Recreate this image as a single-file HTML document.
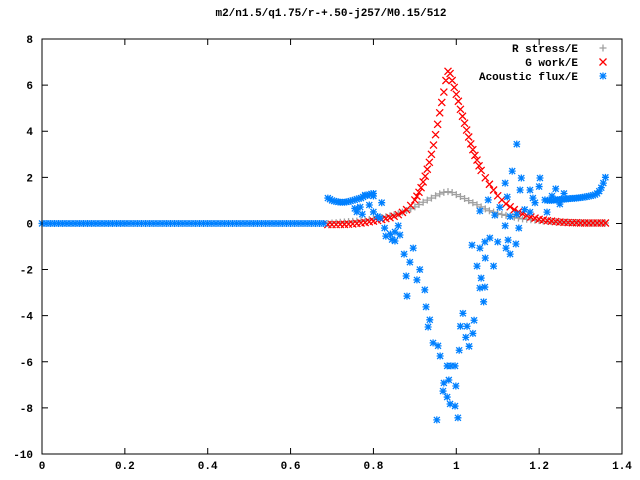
<!DOCTYPE html>
<html><head><meta charset="utf-8"><style>
body{margin:0;background:#fff}
svg{display:block;font-family:"Liberation Mono",monospace;font-size:11px;font-weight:bold}
</style></head><body>
<svg id="chart" width="640" height="480" xmlns="http://www.w3.org/2000/svg">
<rect width="640" height="480" fill="#fff"/>
<text x="331" y="16" text-anchor="middle">m2/n1.5/q1.75/r-+.50-j257/M0.15/512</text>
<g id="axes"></g>
<g id="marks"></g>
<rect x="42" y="39" width="580" height="415" fill="none" stroke="#000" stroke-width="1"/>
<g id="legend"></g>
</svg>
<script>
const xTicks=[0,0.2,0.4,0.6,0.8,1,1.2,1.4];
const xTickLabels=["0","0.2","0.4","0.6","0.8","1","1.2","1.4"];
const yTicks=[-10,-8,-6,-4,-2,0,2,4,6,8];
const yTickLabels=["-10","-8","-6","-4","-2","0","2","4","6","8"];
const seriesNames=["R stress/E","G work/E","Acoustic flux/E"];
const stressX=[0.69,0.70,0.71,0.72,0.73,0.74,0.75,0.76,0.77,0.78,0.79,0.80,0.81,0.82,0.83,0.84,0.85,0.86,0.87,0.88,0.89,0.90,0.91,0.92,0.93,0.94,0.95,0.96,0.97,0.98,0.99,1.00,1.01,1.02,1.03,1.04,1.05,1.06,1.07,1.08,1.09,1.10,1.11,1.12,1.13,1.14,1.15,1.16,1.17,1.18,1.19,1.20,1.21,1.22,1.23,1.24,1.25,1.26,1.27,1.28,1.29,1.30,1.31,1.32,1.33,1.34,1.35,1.36];
const stressY=[0,0.02,0.03,0.05,0.06,0.08,0.09,0.1,0.12,0.14,0.17,0.2,0.23,0.26,0.29,0.33,0.37,0.42,0.49,0.56,0.64,0.72,0.82,0.92,1.01,1.1,1.2,1.28,1.35,1.38,1.34,1.25,1.17,1.08,0.99,0.9,0.81,0.72,0.63,0.55,0.49,0.43,0.39,0.35,0.31,0.27,0.23,0.2,0.18,0.16,0.14,0.12,0.1,0.09,0.08,0.07,0.06,0.05,0.05,0.04,0.04,0.03,0.03,0.02,0.02,0.02,0.02,0.02];
const workX=[0.69,0.70,0.71,0.72,0.73,0.74,0.75,0.76,0.77,0.78,0.79,0.80,0.81,0.82,0.83,0.84,0.85,0.86,0.87,0.88,0.89,0.90,0.91,0.92,0.93,0.94,0.95,0.96,0.97,0.98,0.99,1.00,1.01,1.02,1.03,1.04,1.05,1.06,1.07,1.08,1.09,1.10,1.11,1.12,1.13,1.14,1.15,1.16,1.17,1.18,1.19,1.20,1.21,1.22,1.23,1.24,1.25,1.26,1.27,1.28,1.29,1.30,1.31,1.32,1.33,1.34,1.35,1.36,
0.905,0.915,0.925,0.935,0.945,0.955,0.965,0.975,0.985,0.995,1.005,1.015,1.025,1.035,1.045,1.055];
const workY=[-0.05,-0.05,-0.05,-0.04,-0.04,-0.03,-0.02,0,0.02,0.04,0.07,0.1,0.13,0.17,0.21,0.25,0.31,0.38,0.48,0.6,0.78,1.02,1.35,1.8,2.35,3.0,3.85,4.8,5.7,6.6,6.2,5.6,4.95,4.35,3.75,3.2,2.75,2.3,1.98,1.7,1.45,1.2,1.02,0.85,0.72,0.6,0.5,0.42,0.35,0.28,0.23,0.18,0.15,0.12,0.1,0.08,0.06,0.05,0.04,0.03,0.03,0.02,0.02,0.02,0.02,0.02,0.02,0.02,
1.18,1.55,2.05,2.65,3.4,4.3,5.25,6.2,6.5,5.9,5.3,4.65,4.05,3.45,2.95,2.5];
const fluxX=[0,0.01,0.02,0.03,0.04,0.05,0.06,0.07,0.08,0.09,0.1,0.11,0.12,0.13,0.14,0.15,0.16,0.17,0.18,0.19,0.2,0.21,0.22,0.23,0.24,0.25,0.26,0.27,0.28,0.29,0.3,0.31,0.32,0.33,0.34,0.35,0.36,0.37,0.38,0.39,0.4,0.41,0.42,0.43,0.44,0.45,0.46,0.47,0.48,0.49,0.5,0.51,0.52,0.53,0.54,0.55,0.56,0.57,0.58,0.59,0.6,0.61,0.62,0.63,0.64,0.65,0.66,0.67,0.68,
0.69,0.695,0.70,0.705,0.71,0.715,0.72,0.725,0.73,0.735,0.74,0.745,0.75,0.755,0.76,0.765,0.77,0.775,0.78,0.785,0.79,0.795,0.80,
1.22,1.225,1.23,1.235,1.24,1.245,1.25,1.255,1.26,1.265,1.27,1.275,1.28,1.285,1.29,1.295,1.30,1.305,1.31,1.315,1.32,1.325,1.33,1.335,1.34,1.345,1.35,1.355,1.36,
0.881,0.905,0.888,0.896,0.864,0.852,0.912,0.924,0.927,0.936,0.932,0.956,0.944,0.961,0.978,0.987,0.997,0.982,0.999,0.970,0.978,0.985,0.997,0.953,1.004,0.968,1.007,1.010,1.016,1.026,1.023,1.031,1.040,1.043,1.050,1.057,1.069,1.060,1.066,1.090,1.038,1.069,1.081,1.100,1.120,1.130,1.144,1.125,1.118,1.151,1.146,1.057,1.070,0.879,0.874,0.852,0.816,0.827,0.841,0.83,0.845,0.80,0.81,0.86,
1.146,1.135,1.118,1.157,1.154,1.123,1.077,1.057,1.093,1.178,1.202,1.214,0.768,0.780,0.800,0.773,1.219,1.178,1.231,1.250,1.19,1.165,1.185,1.24,1.26,0.79,0.755,0.82,0.76,1.105,1.13,1.2];
const fluxY=[0,0,0,0,0,0,0,0,0,0,0,0,0,0,0,0,0,0,0,0,0,0,0,0,0,0,0,0,0,0,0,0,0,0,0,0,0,0,0,0,0,0,0,0,0,0,0,0,0,0,0,0,0,0,0,0,0,0,0,0,0,0,0,0,0,0,0,0,0,
1.1,1.05,1.0,0.97,0.95,0.93,0.92,0.92,0.92,0.93,0.95,0.97,1.0,1.02,1.05,1.08,1.1,1.15,1.2,1.22,1.25,1.28,1.3,
1.0,1.0,1.0,1.01,1.02,1.03,1.04,1.04,1.05,1.06,1.07,1.08,1.09,1.09,1.1,1.11,1.12,1.13,1.15,1.16,1.18,1.2,1.22,1.25,1.3,1.4,1.55,1.75,2.0,
-3.15,-2.45,-1.68,-1.07,-0.5,-0.37,-2.0,-2.88,-3.62,-4.18,-4.49,-5.31,-5.18,-5.75,-6.18,-6.18,-6.18,-6.79,-7.05,-6.92,-7.53,-7.83,-7.92,-8.52,-8.43,-7.27,-5.5,-4.46,-3.9,-4.46,-4.94,-5.33,-4.77,-4.2,-1.85,-2.8,-2.76,-2.37,-3.4,-1.85,-0.94,-0.8,-0.63,-0.8,-1.07,-1.33,-0.89,-0.72,-0.1,-0.2,0.4,-1.07,-1.5,-2.28,-1.33,-0.76,0.23,-0.2,-0.46,-0.55,-0.7,0.5,0.3,-0.1,
3.44,2.27,1.75,1.97,1.45,1.15,1.02,0.54,0.36,1.45,1.97,1.02,0.71,1.23,1.19,0.4,0.49,0.49,1.19,0.84,0.9,0.6,1.1,1.5,1.3,0.8,0.65,0.9,0.5,0.7,0.3,1.6];
const L=42,R=622,T=39,B=454,xMin=0,xMax=1.4,yMin=-10,yMax=8;
const sx=v=>L+(v-xMin)/(xMax-xMin)*(R-L);
const sy=v=>B-(v-yMin)/(yMax-yMin)*(B-T);
const NS="http://www.w3.org/2000/svg";
function mk(tag,attrs,parent){const e=document.createElementNS(NS,tag);for(const k in attrs)e.setAttribute(k,attrs[k]);parent.appendChild(e);return e;}
const axes=document.getElementById('axes');
xTicks.forEach((t,i)=>{const x=sx(t);
 const tk=mk('path',{d:`M${x},${B}v-6M${x},${T}v6`,stroke:'#000','stroke-width':1},axes);
 
 
 const lb=mk('text',{x:x,y:469,'text-anchor':'middle'},axes);lb.textContent=xTickLabels[i];
 
 });
yTicks.forEach((t,i)=>{const y=sy(t);
 const tk=mk('path',{d:`M${L},${y}h6M${R},${y}h-6`,stroke:'#000','stroke-width':1},axes);
 
 
 const lb=mk('text',{x:33,y:y+4,'text-anchor':'end'},axes);lb.textContent=yTickLabels[i];
 
 });
const plus=(x,y,s)=>`M${x-s},${y}h${2*s}M${x},${y-s}v${2*s}`;
const cross=(x,y,s)=>`M${x-s},${y-s}l${2*s},${2*s}M${x-s},${y+s}l${2*s},${-2*s}`;
const star=(x,y,s)=>plus(x,y,s)+cross(x,y,s*0.85);
const marks=document.getElementById('marks');
function series(xs,ys,fn,color,name){let d='';xs.forEach((v,i)=>{d+=fn(sx(v),sy(ys[i]),3.5);});
 const p=mk('path',{d:d,stroke:color,'stroke-width':1.3,fill:'none'},marks);
 
 }
series(stressX,stressY,plus,'#a0a0a0','r-stress-series');
series(workX,workY,cross,'#ff0000','g-work-series');
series(fluxX,fluxY,star,'#0080ff','acoustic-flux-series');
const legend=document.getElementById('legend');
const lfn=[plus,cross,star],lcol=['#a0a0a0','#ff0000','#0080ff'];
seriesNames.forEach((n,i)=>{const y=48+i*14;
 const t=mk('text',{x:578,y:y+4,'text-anchor':'end'},legend);t.textContent=n;
 
 
 const m=mk('path',{d:lfn[i](603,y,3.5),stroke:lcol[i],'stroke-width':1.3,fill:'none'},legend);
 
 });
</script>
</body></html>
